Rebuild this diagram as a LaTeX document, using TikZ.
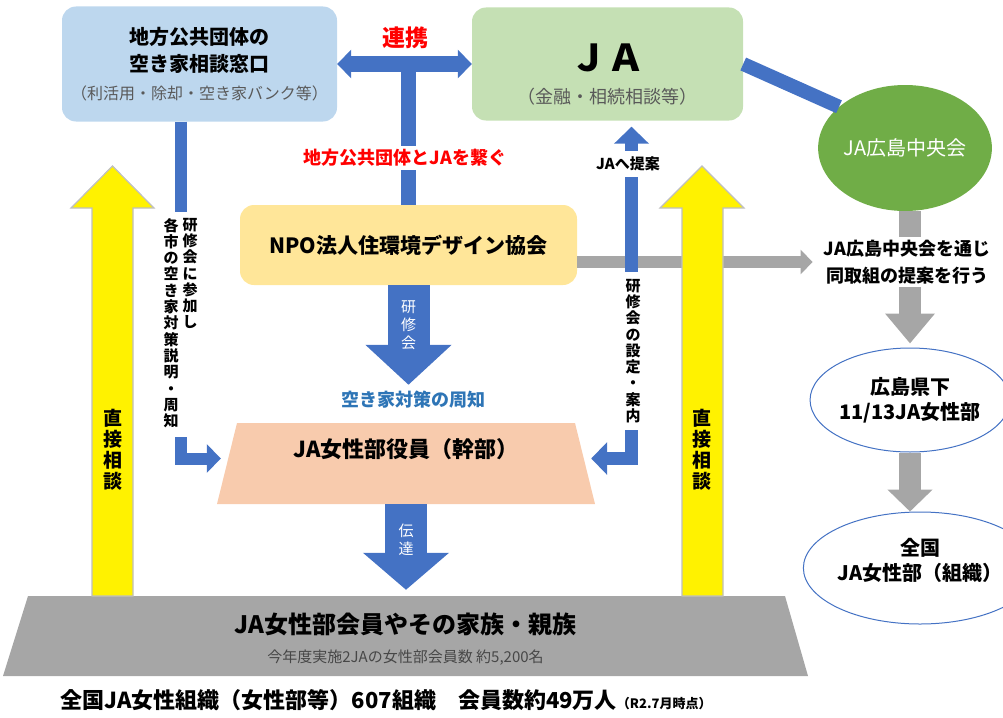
\documentclass[tikz,border=0pt]{standalone}
\usepackage{fontspec}
\setmainfont{Noto Sans CJK JP}
\usetikzlibrary{arrows.meta,shapes.geometric,positioning}

\definecolor{boxblue}{HTML}{BDD7EE}
\definecolor{boxgreen}{HTML}{C5E0B4}
\definecolor{npoyellow}{HTML}{FFE699}
\definecolor{trapeorange}{HTML}{F8CBAD}
\definecolor{arrowblue}{HTML}{4472C4}
\definecolor{hqgreen}{HTML}{70AD47}
\definecolor{midgray}{HTML}{A6A6A6}
\definecolor{textgray}{HTML}{595959}
\definecolor{notegray}{HTML}{474747}
\definecolor{noticeblue}{HTML}{2E75B6}
\definecolor{outlinegray}{HTML}{BFBFBF}

\newcommand{\fs}[2]{\fontsize{#1}{#2}\selectfont}

\tikzset{
	box/.style={rounded corners=14pt, inner sep=0pt, align=center},
	oval/.style={ellipse, inner sep=0pt, align=center},
	trapframe/.style={inner sep=0pt},
	bluebar/.style={draw=arrowblue, line width=13pt},
	graybar/.style={draw=midgray, line width=22pt},
	blockarrow/.style={draw=arrowblue, line width=42pt, -{Triangle[width=84pt,length=40pt]}},
	yellowarrow/.style={fill=yellow, draw=outlinegray, line width=1.2pt},
	labelbox/.style={fill=white, inner sep=3pt},
	vtext/.style={align=center, inner sep=0pt, font=\fs{15}{16.3}\bfseries}
}

\begin{document}
\begin{tikzpicture}[x=1pt, y=-1pt]
	\useasboundingbox (0,0) rectangle (1003,717);

	% boxes
	\node[box, fill=boxblue, minimum width=275pt, minimum height=115pt, font=\fs{20}{27}\bfseries] (chiho) at (199.5,64)
		{地方公共団体の\\空き家相談窓口\\[1pt]{\fs{16}{20}\mdseries\color{textgray}（利活用・除却・空き家バンク等）}};
	\node[box, fill=boxgreen, minimum width=271pt, minimum height=113pt, font=\fs{18}{22}] (ja) at (607.5,64)
		{{\fs{37}{40}\bfseries\rule{0pt}{48pt}ＪＡ}\\[10pt]{\color{textgray}（金融・相続相談等）}};
	\node[oval, fill=hqgreen, minimum width=170pt, minimum height=126pt, text=white, font=\fs{20}{24}] (hq) at (905,148) {JA広島中央会};
	\node[box, fill=npoyellow, minimum width=337pt, minimum height=80pt, font=\fs{21}{25}\bfseries] (npo) at (408.5,245) {NPO法人住環境デザイン協会};

	\fill[trapeorange] (217,504) -- (237,423) -- (575,423) -- (595,504) -- cycle;
	\node[trapframe, minimum width=370pt, minimum height=81pt] (yakuin) at (406,463.5) {};
	\node[font=\fs{22}{26}\bfseries] (yakuintitle) at ([yshift=14pt]yakuin.center) {JA女性部役員（幹部）};

	\fill[midgray] (3,676) -- (28,596) -- (785,596) -- (808,676) -- cycle;
	\node[trapframe, minimum width=790pt, minimum height=80pt] (kazoku) at (405.5,636) {};
	\node[font=\fs{24}{28}\bfseries] (kazokutitle) at ([yshift=12pt]kazoku.center) {JA女性部会員やその家族・親族};
	\node[font=\fs{15}{18}, text=notegray] (kazokunote) at ([yshift=-22pt]kazoku.center) {今年度実施2JAの女性部会員数 約5,200名};

	\node[oval, draw=arrowblue, fill=white, line width=1pt, minimum width=180pt, minimum height=104pt, font=\fs{20}{25}\bfseries] (kenka) at (910,400) {広島県下\\11/13JA女性部};
	\node[oval, draw=arrowblue, fill=white, line width=1pt, minimum width=184pt, minimum height=112pt, font=\fs{20}{25}\bfseries] (zenkoku) at (920,568) {全国\\JA女性部（組織）\\[-8pt]};

	\node[font=\fs{18}{22}\bfseries, text=noticeblue] (shuchi) at (413,400) {空き家対策の周知};

	% JA - 広島中央会
	\draw[bluebar, line width=14pt] (ja.east) -- (hq.148);

	% 連携
	\draw[bluebar, line width=15pt, {Triangle[width=28pt,length=14pt]}-{Triangle[width=28pt,length=14pt]}] (chiho.east) -- (ja.west);
	\draw[bluebar, line width=15pt] (npo.north) -- (npo.north |- chiho.east);
	\node[font=\fs{23}{26}\bfseries, text=red] (renkei) at (405,38) {連携};
	\node[labelbox, font=\fs{18}{22}\bfseries, text=red] (tsunagu) at (405,158) {地方公共団体とJAを繋ぐ};

	% 研修会 / 伝達
	\draw[blockarrow, shorten >=3pt] (npo.south) -- (npo.south |- shuchi.north);
	\node[vtext, text=white, font=\fs{15}{18}] (kenshu) at ([yshift=-40pt]npo.south) {研\\修\\会};
	\draw[blockarrow, -{Triangle[width=84pt,length=37pt]}, shorten >=6pt] (yakuin.south) -- (yakuin.south |- kazoku.north);
	\node[vtext, text=white, font=\fs{15}{18}] (dentatsu) at ([yshift=-36pt]yakuin.south) {伝\\達};

	% 広島中央会から下へ
	\draw[graybar, -{Triangle[width=48pt,length=30pt]}, shorten >=4pt] (kenka.north |- hq.south) -- (kenka.north);
	\draw[graybar, -{Triangle[width=44pt,length=22pt]}] (kenka.south) -- (kenka.south |- zenkoku.north);
	\node[labelbox, align=center, font=\fs{18}{27}\bfseries, inner xsep=6pt] (teian) at (907,262) {JA広島中央会を通じ\\同取組の提案を行う};
	\draw[draw=midgray, line width=12pt, -{Triangle[width=24pt,length=12pt]}, shorten >=5pt] (npo.east |- teian.west) -- (teian.west);

	% 左右の流れ
	\draw[bluebar, line width=12pt, -{Triangle[width=28pt,length=14pt]}] ([xshift=-18.5pt]chiho.south) |- ([yshift=5pt]yakuin.west);
	\node[labelbox, minimum width=60pt, minimum height=225pt, inner sep=0pt] (lbox) at (183,324.5) {};
	\node[vtext, anchor=north] (lcolright) at ([xshift=7pt,yshift=-6pt]lbox.north) {研\\修\\会\\に\\参\\加\\し};
	\node[vtext, anchor=north] (lcolleft) at ([xshift=-12pt,yshift=-6pt]lbox.north) {各\\市\\の\\空\\き\\家\\対\\策\\説\\明\\・\\周\\知};

	\draw[bluebar, {Triangle[width=32pt,length=16pt]}-{Triangle[width=34pt,length=17pt]}, shorten >=6pt] ([yshift=5pt]yakuin.east) -| ([xshift=24pt]ja.south);
	\node[vtext, fill=white, inner xsep=11pt, inner ysep=7pt] (rlabel) at (633,351) {研\\修\\会\\の\\設\\定\\・\\案\\内};
	\node[labelbox, font=\fs{15}{18}\bfseries, inner xsep=8pt, inner ysep=6pt] (jateian) at (628,164) {JAへ提案};

	% 直接相談
	\draw[yellowarrow] (92,596) -- (92,208) -- (71,208) -- (112.5,166) -- (154,208) -- (133,208) -- (133,596) -- cycle;
	\draw[yellowarrow] (682,596) -- (682,208) -- (660,208) -- (702,166) -- (744,208) -- (723,208) -- (723,596) -- cycle;
	\node[vtext, font=\fs{19}{21}\bfseries] (chokusetsuL) at (113,450) {直\\接\\相\\談};
	\node[vtext, font=\fs{19}{21}\bfseries] (chokusetsuR) at (702,450) {直\\接\\相\\談};

	% 全国の数
	\node[font=\fs{22}{24}\bfseries] (total) at (386,700) {全国JA女性組織（女性部等）607組織　会員数約49万人{\fs{13}{14}（R2.7月時点）}};
\end{tikzpicture}
\end{document}
